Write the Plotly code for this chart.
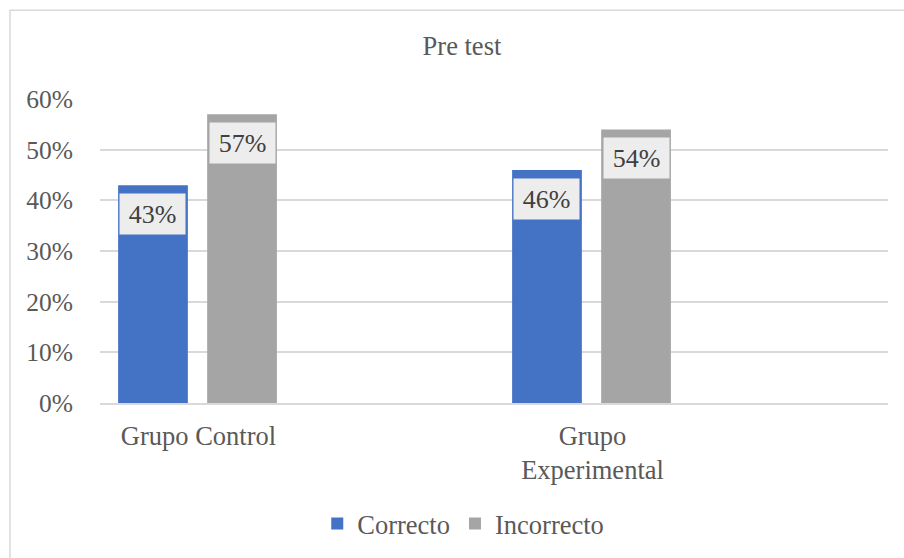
import plotly.graph_objects as go

# Pre test results per group (percent of answers)
groups = ["Grupo Control", "Grupo Experimental"]
group_ticks = ["Grupo Control", "Grupo<br>Experimental"]
correcto = [43, 46]
incorrecto = [57, 54]

BLUE = "#4472C4"
GRAY = "#A5A5A5"
TEXT = "#595959"
FONT = "Liberation Serif, Times New Roman, serif"

BAR_W = 0.177
series = [
    ("Correcto", correcto, BLUE, -0.204),
    ("Incorrecto", incorrecto, GRAY, 0.022),
]

fig = go.Figure()
for name, vals, color, off in series:
    fig.add_trace(go.Bar(
        name=name,
        x=groups,
        y=[v / 100 for v in vals],
        width=BAR_W,
        offset=off,
        marker=dict(color=color, line=dict(width=0)),
        hoverinfo="skip",
    ))

# value labels in light boxes just inside the top of each bar
px_per_unit = 788 / 2.0
for name, vals, color, off in series:
    for g, v in zip(groups, vals):
        center = off + BAR_W / 2
        fig.add_annotation(
            x=g, y=v / 100, xref="x", yref="y",
            xshift=center * px_per_unit, yshift=-8,
            yanchor="top", xanchor="center",
            text=f"{v}%", showarrow=False,
            font=dict(family=FONT, size=26, color="#404040"),
            bgcolor="#EDEDED", width=65, height=40, borderpad=0,
        )

# chart frame
fig.add_shape(
    type="rect", xref="paper", yref="paper",
    x0=-0.1142, x1=1.03, y0=-0.52, y1=1.2918,
    line=dict(color="#D9D9D9", width=1.5), fillcolor="rgba(0,0,0,0)",
    layer="below",
)

fig.update_layout(
    width=904, height=558,
    margin=dict(l=100, r=16, t=99, b=154),
    paper_bgcolor="white", plot_bgcolor="white",
    barmode="overlay",
    font=dict(family=FONT, size=26, color=TEXT),
    title=dict(text="Pre test", x=0.511, xanchor="center",
               y=1 - 46 / 558, yanchor="middle",
               font=dict(family=FONT, size=26.5, color=TEXT)),
    legend=dict(orientation="h", x=0.461, xanchor="center",
                y=-0.393, yanchor="middle",
                font=dict(family=FONT, size=26.5, color=TEXT),
                itemclick=False, traceorder="normal"),
    xaxis=dict(type="category", range=[-0.25, 1.75],
               tickvals=groups, ticktext=group_ticks,
               showgrid=False, showline=True, linecolor="#D9D9D9", linewidth=1.5,
               ticks="", ticklabelstandoff=8,
               tickfont=dict(family=FONT, size=26.5, color=TEXT)),
    yaxis=dict(range=[0, 0.6], dtick=0.1, tickformat=".0%",
               showgrid=True, gridcolor="#D9D9D9", gridwidth=1.5,
               zeroline=False, showline=False, ticks="",
               ticklabelstandoff=26,
               tickfont=dict(family=FONT, size=25.5, color=TEXT)),
    showlegend=True,
)

fig.write_html("out.html")
